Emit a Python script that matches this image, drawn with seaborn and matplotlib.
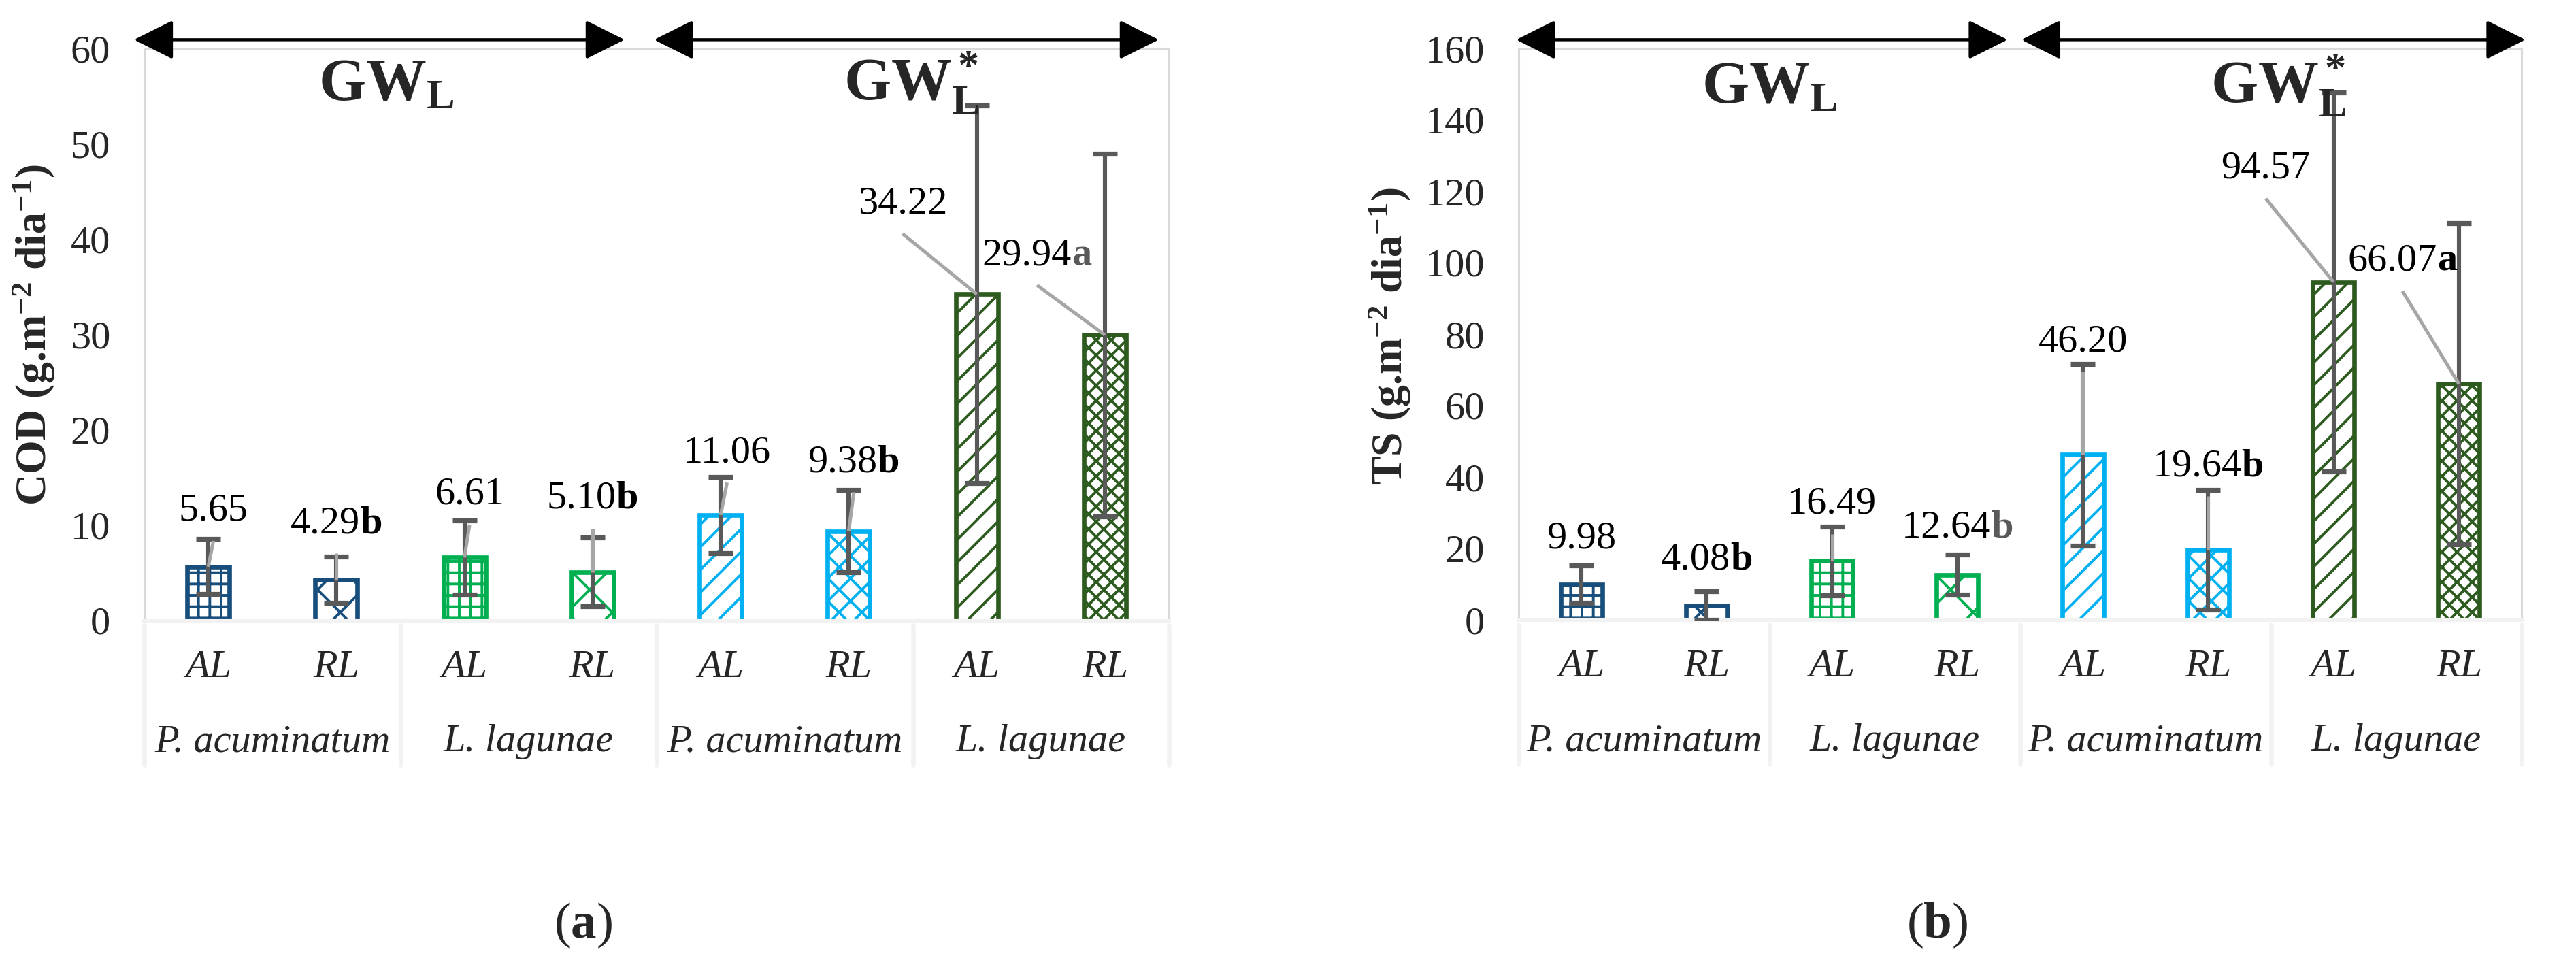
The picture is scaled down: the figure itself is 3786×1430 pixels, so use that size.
import matplotlib
matplotlib.use('Agg')
import numpy as np
import pandas as pd
import matplotlib.pyplot as plt
import matplotlib.transforms as mtransforms
from matplotlib.offsetbox import TextArea, HPacker, AnnotationBbox
import seaborn as sns

# dados
categorias = ['AL', 'RL', 'AL', 'RL', 'AL', 'RL', 'AL', 'RL']
especies = ['P. acuminatum', 'L. lagunae', 'P. acuminatum', 'L. lagunae']
grupos = [r'$\mathbf{GW_L}$', r'$\mathbf{GW_L^*}$']

cod_media = [5.65, 4.29, 6.61, 5.10, 11.06, 9.38, 34.22, 29.94]
cod_dp = [2.9, 2.4, 3.9, 3.6, 4.0, 4.3, 19.8, 19.0]
cod_letra = ['', 'b', '', 'b', '', 'b', '', 'a']
cod_cor_letra = ['k', 'k', 'k', 'k', 'k', 'k', 'k', '#595959']

ts_media = [9.98, 4.08, 16.49, 12.64, 46.20, 19.64, 94.57, 66.07]
ts_dp = [5.3, 4.0, 9.6, 5.6, 25.4, 16.8, 53.0, 45.0]
ts_letra = ['', 'b', '', 'b', '', 'b', '', 'a']
ts_cor_letra = ['k', 'k', 'k', '#595959', 'k', 'k', 'k', 'k']

# posicao dos rotulos (deslocamento em categorias, altura em unidades do eixo)
cod_rot_dx = [0.04, 0.0, 0.04, 0.0, 0.05, 0.04, -0.58, -0.53]
cod_rot_y = [11.5, 10.2, 13.2, 12.8, 17.6, 16.6, 43.7, 38.3]
cod_guia = [True, True, True, True, True, True, True, True]
ts_rot_dx = [0.0, 0.0, 0.0, 0.0, 0.0, 0.0, -0.54, -0.45]
ts_rot_y = [22.7, 16.8, 32.4, 25.9, 77.9, 43.0, 126.3, 100.4]
ts_guia = [False, False, True, False, True, True, True, True]

cores = ['#174E7C', '#174E7C', '#00B050', '#00B050', '#00B0F0', '#00B0F0', '#2D5A1E', '#2D5A1E']
hachuras = ['++', 'x', '++', 'x', '//', 'xx', '//', 'xxx']

W, H, DPI = 3786, 1430, 200
sns.set_style('white')
plt.rcParams['font.family'] = ['Liberation Serif', 'DejaVu Serif']
plt.rcParams['mathtext.fontset'] = 'custom'
plt.rcParams['mathtext.rm'] = 'Liberation Serif'
plt.rcParams['mathtext.bf'] = 'Liberation Serif:bold'
plt.rcParams['mathtext.it'] = 'Liberation Serif:italic'
plt.rcParams['hatch.linewidth'] = 1.4

fig = plt.figure(figsize=(W / DPI, H / DPI), dpi=DPI)
ax1 = fig.add_axes([212 / W, 1 - 912 / H, 1506 / W, 841 / H])
ax2 = fig.add_axes([2232 / W, 1 - 911 / H, 1474 / W, 840 / H])


def painel(ax, media, dp, letra, cor_letra, rot_dx, rot_y, guia, ymax, passo,
           seta1, seta2, pos_gw, y_gw, ylab, ylab_xy, letra_painel, letra_xy, alt_px):
    df = pd.DataFrame({'chave': [f'{i}' for i in range(8)], 'valor': media})
    sns.barplot(data=df, x='chave', y='valor', hue='chave', palette=cores,
                legend=False, width=0.33, errorbar=None, ax=ax, zorder=2)
    for p, c, h in zip(ax.patches, cores, hachuras):
        p.set_facecolor('white')
        p.set_edgecolor(c)
        p.set_hatch(h)
        p.set_linewidth(2.4)
    ax.errorbar(np.arange(8), media, yerr=dp, fmt='none', ecolor='#595959',
                elinewidth=2.2, capsize=6.5, capthick=2.6, zorder=3)

    ax.set_xlim(-0.5, 7.5)
    ax.set_ylim(0, ymax)
    ax.set_yticks(np.arange(0, ymax + 1, passo))
    ax.tick_params(axis='y', length=0, pad=18, labelsize=21)
    ax.set_xticks([])
    ax.set_xlabel('')
    ax.set_ylabel('')
    for s in ['left', 'top', 'right']:
        ax.spines[s].set_color('#D9D9D9')
        ax.spines[s].set_linewidth(1.1)
    ax.spines['bottom'].set_color('#F2F2F2')
    ax.spines['bottom'].set_linewidth(2.2)

    # rotulos de valor e linhas guia
    px_por_unid = alt_px / ymax
    for i in range(8):
        filhos = [TextArea(f'{media[i]:.2f}', textprops=dict(fontsize=21, color='black'))]
        if letra[i]:
            filhos.append(TextArea(letra[i], textprops=dict(fontsize=21, color=cor_letra[i],
                                                             fontweight='bold')))
        caixa = HPacker(children=filhos, align='baseline', pad=0, sep=0)
        ab = AnnotationBbox(caixa, (i + rot_dx[i], rot_y[i]), xycoords='data', frameon=False,
                            box_alignment=(0.5, 0.5), pad=0, zorder=5, annotation_clip=False)
        ax.add_artist(ab)
        if guia[i]:
            y0 = rot_y[i] - 44 / px_por_unid
            ax.plot([i + rot_dx[i], i], [y0, media[i]], color='#A6A6A6', lw=1.8,
                    zorder=4, solid_capstyle='butt')

    # eixo de categorias em dois niveis
    tr = mtransforms.blended_transform_factory(ax.transData, ax.transAxes)
    for g in [-0.5, 1.5, 3.5, 5.5, 7.5]:
        ax.plot([g, g], [-0.008, -0.252], transform=tr, color='#F2F2F2', lw=2.4,
                clip_on=False)
    for i, c in enumerate(categorias):
        ax.text(i, -0.082, c, transform=tr, ha='center', va='center', fontsize=21,
                style='italic')
    for j, e in enumerate(especies):
        ax.text(2 * j + 0.5, -0.212, e, transform=tr, ha='center', va='center',
                fontsize=21, style='italic')

    # setas dos grupos
    for (xa, xb), gx, gtxt in zip([seta1, seta2], pos_gw, grupos):
        ax.annotate('', xy=(xb, 1.015), xytext=(xa, 1.015), xycoords=tr, textcoords=tr,
                    arrowprops=dict(arrowstyle='<|-|>,head_length=18,head_width=9',
                                    mutation_scale=1, lw=1.6, color='black',
                                    shrinkA=0, shrinkB=0), annotation_clip=False)
        ax.text(gx, y_gw, gtxt, transform=tr, ha='center', va='baseline', fontsize=32)

    fig.text(ylab_xy[0] / W, 1 - ylab_xy[1] / H, ylab, rotation=90, ha='center',
             va='center', fontsize=23, fontweight='bold')
    fig.text(letra_xy[0] / W, 1 - letra_xy[1] / H, letra_painel, ha='center',
             va='center', fontsize=27)


painel(ax1, cod_media, cod_dp, cod_letra, cod_cor_letra, cod_rot_dx, cod_rot_y, cod_guia,
       60, 10, (-0.58, 3.25), (3.48, 7.42), (1.39, 5.49), 0.910,
       r'COD (g.m$^{\mathbf{-2}}$ dia$^{\mathbf{-1}}$)', (50, 492),
       r'($\mathbf{a}$)', (857, 1360), 841)
painel(ax2, ts_media, ts_dp, ts_letra, ts_cor_letra, ts_rot_dx, ts_rot_y, ts_guia,
       160, 20, (-0.52, 3.40), (3.51, 7.53), (1.50, 5.56), 0.905,
       r'TS (g.m$^{\mathbf{-2}}$ dia$^{\mathbf{-1}}$)', (2043, 494),
       r'($\mathbf{b}$)', (2847, 1360), 840)

fig.savefig('out.png', dpi=DPI, facecolor='white')
